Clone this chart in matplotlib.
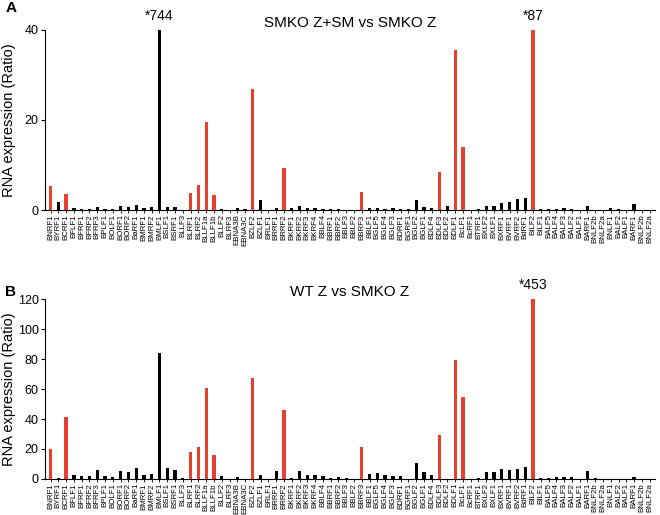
import numpy as np
import matplotlib
matplotlib.use("Agg")
import matplotlib.pyplot as plt

plt.rcParams['font.family'] = ['Liberation Sans', 'DejaVu Sans']

# --- datos ---
genes = ["BNRF1", "BYRF1", "BCRF1", "BFLF1", "BFRF1", "BFRF2", "BFRF3", "BPLF1",
         "BOLF1", "BORF1", "BORF2", "BaRF1", "BMRF1", "BMRF2", "BMLF1", "BSLF1",
         "BSRF1", "BLLF3", "BLRF1", "BLRF2", "BLLF1a", "BLLF1b", "BLLF2", "BLRF3",
         "EBNA3B", "EBNA3C", "BZLF2", "BZLF1", "BRLF1", "BRRF1", "BRRF2", "BKRF1",
         "BKRF2", "BKRF3", "BKRF4", "BBLF4", "BBRF1", "BBRF2", "BBLF3", "BBLF2",
         "BBRF3", "BBLF1", "BGLF5", "BGLF4", "BGLF3", "BDRF1", "BGRF1", "BGLF2",
         "BGLF1", "BDLF4", "BDLF3", "BDLF2", "BDLF1", "BcLF1", "BcRF1", "BTRF1",
         "BXLF2", "BXLF1", "BXRF1", "BVRF1", "BVRF2", "BdRF1", "BILF2", "BILF1",
         "BALF5", "BALF4", "BALF3", "BALF2", "BALF1", "BARF1", "BNLF2b", "BNLF2a",
         "BNLF1", "BALF2", "BALF1", "BARF1", "BNLF2b", "BNLF2a"]

# genes marcados en rojo
rojos = ["BNRF1", "BCRF1", "BLRF1", "BLRF2", "BLLF1a", "BLLF1b", "BZLF2", "BRRF2",
         "BBRF3", "BDLF3", "BDLF1", "BcLF1", "BILF2"]

# A: SMKO Z+SM vs SMKO Z (BMLF1 = 744 y BILF2 = 87, recortados a 40)
vals_a = [5.3, 1.7, 3.6, 0.4, 0.2, 0.2, 0.6, 0.15,
          0.3, 0.9, 0.6, 1.2, 0.5, 0.6, 744, 0.7,
          0.7, 0.05, 3.7, 5.6, 19.6, 3.4, 0.15, 0.05,
          0.5, 0.15, 26.8, 2.2, 0.05, 0.5, 9.3, 0.4,
          0.95, 0.5, 0.4, 0.35, 0.15, 0.15, 0.05, 0.05,
          4.0, 0.5, 0.4, 0.3, 0.45, 0.3, 0.3, 2.35,
          0.8, 0.45, 8.4, 1.0, 35.5, 14.0, 0.05, 0.2,
          1.0, 0.95, 1.6, 1.7, 2.4, 2.8, 87, 0.15,
          0.35, 0.2, 0.5, 0.35, 0.05, 1.0, 0.05, 0.05,
          0.45, 0.35, 0.05, 1.4, 0.05, 0.05]

# B: WT Z vs SMKO Z (BILF2 = 453, recortado a 120)
vals_b = [19.8, 0.7, 41.5, 2.9, 1.8, 1.8, 5.8, 1.8,
          1.3, 5.1, 4.7, 7.3, 2.9, 3.3, 84.2, 7.3,
          5.8, 0.7, 18.2, 21.6, 60.4, 16.2, 1.8, 0.3,
          1.3, 0.2, 67.1, 2.4, 0.3, 5.6, 46.0, 0.9,
          5.6, 2.7, 2.9, 2.2, 0.9, 1.3, 0.5, 0.3,
          21.6, 3.3, 4.0, 2.4, 2.2, 2.2, 0.3, 10.4,
          4.4, 2.9, 29.3, 0.3, 79.3, 54.4, 0.2, 0.9,
          4.7, 4.4, 6.4, 6.2, 6.4, 8.2, 453, 0.7,
          0.9, 1.1, 1.6, 1.3, 0.3, 5.6, 0.7, 0.3,
          0.3, 0.3, 0.3, 1.3, 0.3, 0.3]

ROJO = "#e8402f"
x = np.arange(len(genes))
colores = [ROJO if g in rojos else "black" for g in genes]


def panel(ax, vals, ymax, yticks, titulo, notas):
    v = np.minimum(vals, ymax)
    ax.bar(x, v, width=0.42, color=colores, linewidth=0)
    ax.set_xlim(-0.73, len(genes) - 0.35)
    ax.set_ylim(0, ymax)
    ax.set_yticks(yticks)
    ax.tick_params(axis='y', labelsize=9, length=3, width=0.8, pad=1.5)
    ax.set_xticks(x)
    ax.set_xticklabels(genes, rotation=90, fontsize=5.7)
    ax.tick_params(axis='x', length=2, width=0.6, pad=1)
    for s in ['top', 'right']:
        ax.spines[s].set_visible(False)
    ax.spines['left'].set_linewidth(0.8)
    ax.spines['bottom'].set_linewidth(0.8)
    ax.set_ylabel("RNA expression (Ratio)", fontsize=10.5)
    ax.yaxis.set_label_coords(-0.047, 0.5)
    ax.text(0.5, 1.0, titulo, transform=ax.transAxes, ha='center', va='bottom',
            fontsize=11)
    for i, txt in notas:
        ax.text(i, ymax * 1.04, txt, ha='center', va='bottom', fontsize=10,
                clip_on=False)


fig = plt.figure(figsize=(6.6, 5.15), dpi=100)
ax_a = fig.add_axes([0.068, 0.592, 0.924, 0.350])
ax_b = fig.add_axes([0.068, 0.070, 0.924, 0.349])

panel(ax_a, vals_a, 40, [0, 20, 40], "SMKO Z+SM vs SMKO Z",
      [(genes.index("BMLF1"), "*744"), (62, "*87")])
panel(ax_b, vals_b, 120, [0, 20, 40, 60, 80, 100, 120], "WT Z vs SMKO Z",
      [(62, "*453")])

fig.text(0.008, 1 - 8 / 515, "A", fontsize=11, fontweight='bold', va='center')
fig.text(0.008, 1 - 292 / 515, "B", fontsize=11, fontweight='bold', va='center')

fig.savefig("out.png", dpi=100)
